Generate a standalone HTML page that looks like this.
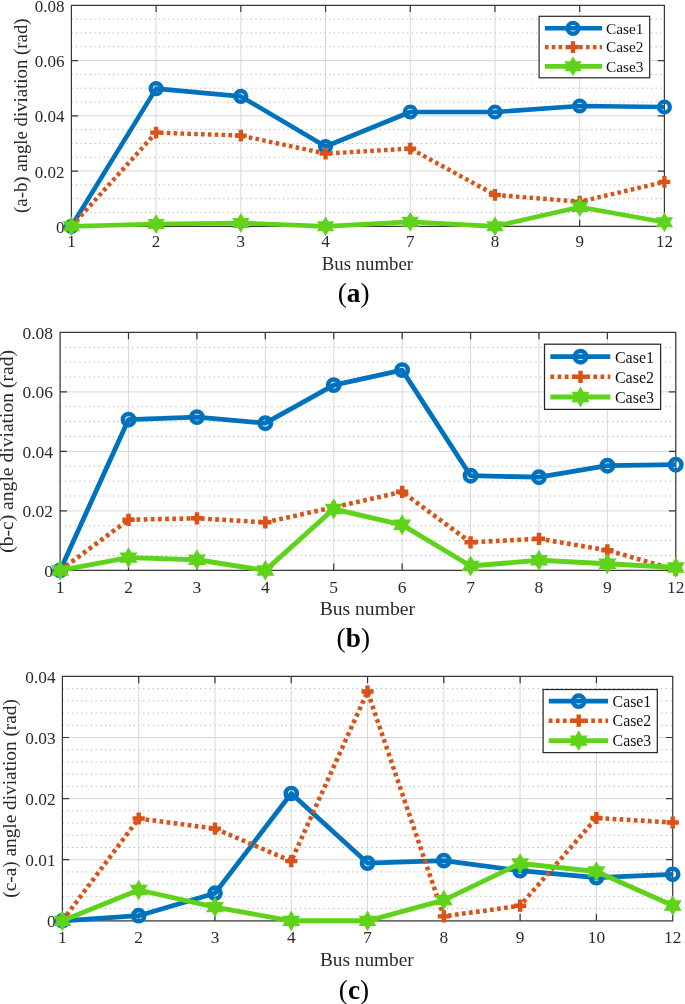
<!DOCTYPE html>
<html lang="en"><head><meta charset="utf-8"><title>Angle deviation per bus</title>
<style>html,body{margin:0;padding:0;background:#fff;overflow:hidden}svg{display:block}</style></head>
<body>
<svg width="685" height="1004" viewBox="0 0 685 1004" font-family='"Liberation Serif", "DejaVu Serif", serif'>
<rect width="685" height="1004" fill="#fff"/>
<g id="chart-a">
<path d="M71.4 212.49H664.4M71.4 198.68H664.4M71.4 184.86H664.4M71.4 157.24H664.4M71.4 143.43H664.4M71.4 129.61H664.4M71.4 101.99H664.4M71.4 88.18H664.4M71.4 74.36H664.4M71.4 46.74H664.4M71.4 32.93H664.4M71.4 19.11H664.4" stroke="#b2b2b2" stroke-width="1" stroke-dasharray="1.2 3.4" fill="none"/>
<path d="M156.11 5.3V226.3M240.83 5.3V226.3M325.54 5.3V226.3M410.26 5.3V226.3M494.97 5.3V226.3M579.69 5.3V226.3M71.4 171.05H664.4M71.4 115.8H664.4M71.4 60.55H664.4" stroke="#d8d8d8" stroke-width="1" fill="none"/>
<path d="M71.4 5.3H664.4V226.3H71.4ZM156.11 226.3v-6.6M156.11 5.3v6.6M240.83 226.3v-6.6M240.83 5.3v6.6M325.54 226.3v-6.6M325.54 5.3v6.6M410.26 226.3v-6.6M410.26 5.3v6.6M494.97 226.3v-6.6M494.97 5.3v6.6M579.69 226.3v-6.6M579.69 5.3v6.6M71.4 171.05h6.6M664.4 171.05h-6.6M71.4 115.8h6.6M664.4 115.8h-6.6M71.4 60.55h6.6M664.4 60.55h-6.6" stroke="#383838" stroke-width="1.2" fill="none"/>
<g font-size="17" fill="#2a2a2a" text-anchor="middle">
<text x="71.4" y="247.3">1</text>
<text x="156.11" y="247.3">2</text>
<text x="240.83" y="247.3">3</text>
<text x="325.54" y="247.3">4</text>
<text x="410.26" y="247.3">7</text>
<text x="494.97" y="247.3">8</text>
<text x="579.69" y="247.3">9</text>
<text x="664.4" y="247.3">12</text>
</g>
<g font-size="17" fill="#2a2a2a" text-anchor="end">
<text x="64.6" y="232.9">0</text>
<text x="64.6" y="177.65">0.02</text>
<text x="64.6" y="122.4">0.04</text>
<text x="64.6" y="67.15">0.06</text>
<text x="64.6" y="11.9">0.08</text>
</g>
<text x="367.4" y="270" font-size="18.8" text-anchor="middle" fill="#2a2a2a">Bus number</text>
<text transform="translate(26.9 115.7) rotate(-90)" font-size="18.8" text-anchor="middle" fill="#2a2a2a">(a-b) angle diviation (rad)</text>
<polyline points="71.4,226.3 156.11,88.6 240.83,96.4 325.54,146.5 410.26,112 494.97,112 579.69,106 664.4,107" fill="none" stroke="#0072BD" stroke-width="4.6" stroke-linejoin="round"/>
<circle cx="71.4" cy="226.3" r="5.4" fill="none" stroke="#0072BD" stroke-width="4.4"/>
<circle cx="156.11" cy="88.6" r="5.4" fill="none" stroke="#0072BD" stroke-width="4.4"/>
<circle cx="240.83" cy="96.4" r="5.4" fill="none" stroke="#0072BD" stroke-width="4.4"/>
<circle cx="325.54" cy="146.5" r="5.4" fill="none" stroke="#0072BD" stroke-width="4.4"/>
<circle cx="410.26" cy="112" r="5.4" fill="none" stroke="#0072BD" stroke-width="4.4"/>
<circle cx="494.97" cy="112" r="5.4" fill="none" stroke="#0072BD" stroke-width="4.4"/>
<circle cx="579.69" cy="106" r="5.4" fill="none" stroke="#0072BD" stroke-width="4.4"/>
<circle cx="664.4" cy="107" r="5.4" fill="none" stroke="#0072BD" stroke-width="4.4"/>
<polyline points="71.4,226.3 156.11,132.6 240.83,135.6 325.54,153.6 410.26,148.6 494.97,194.9 579.69,201.7 664.4,181.9" fill="none" stroke="#D95319" stroke-width="4.4" stroke-dasharray="3.6 3.25" stroke-linejoin="round"/>
<path d="M65.5 226.3H77.3M71.4 220.4V232.2" stroke="#D95319" stroke-width="4.3" fill="none"/>
<path d="M150.21 132.6H162.01M156.11 126.7V138.5" stroke="#D95319" stroke-width="4.3" fill="none"/>
<path d="M234.93 135.6H246.73M240.83 129.7V141.5" stroke="#D95319" stroke-width="4.3" fill="none"/>
<path d="M319.64 153.6H331.44M325.54 147.7V159.5" stroke="#D95319" stroke-width="4.3" fill="none"/>
<path d="M404.36 148.6H416.16M410.26 142.7V154.5" stroke="#D95319" stroke-width="4.3" fill="none"/>
<path d="M489.07 194.9H500.87M494.97 189V200.8" stroke="#D95319" stroke-width="4.3" fill="none"/>
<path d="M573.79 201.7H585.59M579.69 195.8V207.6" stroke="#D95319" stroke-width="4.3" fill="none"/>
<path d="M658.5 181.9H670.3M664.4 176V187.8" stroke="#D95319" stroke-width="4.3" fill="none"/>
<polyline points="71.4,226.3 156.11,224 240.83,223 325.54,226.3 410.26,221.8 494.97,226.3 579.69,207 664.4,222.2" fill="none" stroke="#5FD31B" stroke-width="4.7" stroke-linejoin="round"/>
<polygon points="71.40,218.30 73.71,222.30 78.33,222.30 76.02,226.30 78.33,230.30 73.71,230.30 71.40,234.30 69.09,230.30 64.47,230.30 66.78,226.30 64.47,222.30 69.09,222.30" fill="#5FD31B" stroke="#5FD31B" stroke-width="2" stroke-linejoin="miter"/>
<polygon points="156.11,216.00 158.42,220.00 163.04,220.00 160.73,224.00 163.04,228.00 158.42,228.00 156.11,232.00 153.80,228.00 149.19,228.00 151.50,224.00 149.19,220.00 153.80,220.00" fill="#5FD31B" stroke="#5FD31B" stroke-width="2" stroke-linejoin="miter"/>
<polygon points="240.83,215.00 243.14,219.00 247.76,219.00 245.45,223.00 247.76,227.00 243.14,227.00 240.83,231.00 238.52,227.00 233.90,227.00 236.21,223.00 233.90,219.00 238.52,219.00" fill="#5FD31B" stroke="#5FD31B" stroke-width="2" stroke-linejoin="miter"/>
<polygon points="325.54,218.30 327.85,222.30 332.47,222.30 330.16,226.30 332.47,230.30 327.85,230.30 325.54,234.30 323.23,230.30 318.61,230.30 320.92,226.30 318.61,222.30 323.23,222.30" fill="#5FD31B" stroke="#5FD31B" stroke-width="2" stroke-linejoin="miter"/>
<polygon points="410.26,213.80 412.57,217.80 417.19,217.80 414.88,221.80 417.19,225.80 412.57,225.80 410.26,229.80 407.95,225.80 403.33,225.80 405.64,221.80 403.33,217.80 407.95,217.80" fill="#5FD31B" stroke="#5FD31B" stroke-width="2" stroke-linejoin="miter"/>
<polygon points="494.97,218.30 497.28,222.30 501.90,222.30 499.59,226.30 501.90,230.30 497.28,230.30 494.97,234.30 492.66,230.30 488.04,230.30 490.35,226.30 488.04,222.30 492.66,222.30" fill="#5FD31B" stroke="#5FD31B" stroke-width="2" stroke-linejoin="miter"/>
<polygon points="579.69,199.00 582.00,203.00 586.61,203.00 584.30,207.00 586.61,211.00 582.00,211.00 579.69,215.00 577.38,211.00 572.76,211.00 575.07,207.00 572.76,203.00 577.38,203.00" fill="#5FD31B" stroke="#5FD31B" stroke-width="2" stroke-linejoin="miter"/>
<polygon points="664.40,214.20 666.71,218.20 671.33,218.20 669.02,222.20 671.33,226.20 666.71,226.20 664.40,230.20 662.09,226.20 657.47,226.20 659.78,222.20 657.47,218.20 662.09,218.20" fill="#5FD31B" stroke="#5FD31B" stroke-width="2" stroke-linejoin="miter"/>
<rect x="539.1" y="16.3" width="110.6" height="61.5" fill="#fff" stroke="#262626" stroke-width="1.2"/>
<path d="M544.9 28.3H602" stroke="#0072BD" stroke-width="4.6"/>
<circle cx="573" cy="28.3" r="5.4" fill="none" stroke="#0072BD" stroke-width="4.4"/>
<path d="M544.9 47.1H602" stroke="#D95319" stroke-width="4.4" stroke-dasharray="3.6 3.25"/>
<path d="M567.1 47.1H578.9M573 41.2V53" stroke="#D95319" stroke-width="4.3" fill="none"/>
<path d="M544.9 66.3H602" stroke="#5FD31B" stroke-width="4.7"/>
<polygon points="573.00,58.30 575.31,62.30 579.93,62.30 577.62,66.30 579.93,70.30 575.31,70.30 573.00,74.30 570.69,70.30 566.07,70.30 568.38,66.30 566.07,62.30 570.69,62.30" fill="#5FD31B" stroke="#5FD31B" stroke-width="2" stroke-linejoin="miter"/>
<g font-size="15.3" fill="#111">
<text x="606.1" y="33.6">Case1</text>
<text x="606.1" y="52.4">Case2</text>
<text x="606.1" y="71.6">Case3</text>
</g>
<text x="353.7" y="302.4" font-size="27.3" text-anchor="middle" fill="#000">(<tspan font-weight="bold">a</tspan>)</text>
</g>
<g id="chart-b">
<path d="M60.1 555.52H675.8M60.1 540.65H675.8M60.1 525.77H675.8M60.1 496.02H675.8M60.1 481.15H675.8M60.1 466.27H675.8M60.1 436.52H675.8M60.1 421.65H675.8M60.1 406.77H675.8M60.1 377.02H675.8M60.1 362.15H675.8M60.1 347.27H675.8" stroke="#b2b2b2" stroke-width="1" stroke-dasharray="1.25 3.55" fill="none"/>
<path d="M128.51 332.4V570.4M196.92 332.4V570.4M265.33 332.4V570.4M333.74 332.4V570.4M402.16 332.4V570.4M470.57 332.4V570.4M538.98 332.4V570.4M607.39 332.4V570.4M60.1 510.9H675.8M60.1 451.4H675.8M60.1 391.9H675.8" stroke="#d8d8d8" stroke-width="1" fill="none"/>
<path d="M60.1 332.4H675.8V570.4H60.1ZM128.51 570.4v-6.9M128.51 332.4v6.9M196.92 570.4v-6.9M196.92 332.4v6.9M265.33 570.4v-6.9M265.33 332.4v6.9M333.74 570.4v-6.9M333.74 332.4v6.9M402.16 570.4v-6.9M402.16 332.4v6.9M470.57 570.4v-6.9M470.57 332.4v6.9M538.98 570.4v-6.9M538.98 332.4v6.9M607.39 570.4v-6.9M607.39 332.4v6.9M60.1 510.9h6.9M675.8 510.9h-6.9M60.1 451.4h6.9M675.8 451.4h-6.9M60.1 391.9h6.9M675.8 391.9h-6.9" stroke="#383838" stroke-width="1.25" fill="none"/>
<g font-size="17.5" fill="#2a2a2a" text-anchor="middle">
<text x="60.1" y="592.6">1</text>
<text x="128.51" y="592.6">2</text>
<text x="196.92" y="592.6">3</text>
<text x="265.33" y="592.6">4</text>
<text x="333.74" y="592.6">5</text>
<text x="402.16" y="592.6">6</text>
<text x="470.57" y="592.6">7</text>
<text x="538.98" y="592.6">8</text>
<text x="607.39" y="592.6">9</text>
<text x="675.8" y="592.6">12</text>
</g>
<g font-size="17.5" fill="#2a2a2a" text-anchor="end">
<text x="53.1" y="576.9">0</text>
<text x="53.1" y="517.4">0.02</text>
<text x="53.1" y="457.9">0.04</text>
<text x="53.1" y="398.4">0.06</text>
<text x="53.1" y="338.9">0.08</text>
</g>
<text x="367.3" y="615.2" font-size="19.6" text-anchor="middle" fill="#2a2a2a">Bus number</text>
<text transform="translate(13.2 451.4) rotate(-90)" font-size="19.6" text-anchor="middle" fill="#2a2a2a">(b-c) angle diviation (rad)</text>
<polyline points="60.1,570.4 128.51,419.6 196.92,417.1 265.33,423.2 333.74,385.1 402.16,370.1 470.57,475.7 538.98,477.2 607.39,465.7 675.8,464.7" fill="none" stroke="#0072BD" stroke-width="4.81" stroke-linejoin="round"/>
<circle cx="60.1" cy="570.4" r="5.64" fill="none" stroke="#0072BD" stroke-width="4.6"/>
<circle cx="128.51" cy="419.6" r="5.64" fill="none" stroke="#0072BD" stroke-width="4.6"/>
<circle cx="196.92" cy="417.1" r="5.64" fill="none" stroke="#0072BD" stroke-width="4.6"/>
<circle cx="265.33" cy="423.2" r="5.64" fill="none" stroke="#0072BD" stroke-width="4.6"/>
<circle cx="333.74" cy="385.1" r="5.64" fill="none" stroke="#0072BD" stroke-width="4.6"/>
<circle cx="402.16" cy="370.1" r="5.64" fill="none" stroke="#0072BD" stroke-width="4.6"/>
<circle cx="470.57" cy="475.7" r="5.64" fill="none" stroke="#0072BD" stroke-width="4.6"/>
<circle cx="538.98" cy="477.2" r="5.64" fill="none" stroke="#0072BD" stroke-width="4.6"/>
<circle cx="607.39" cy="465.7" r="5.64" fill="none" stroke="#0072BD" stroke-width="4.6"/>
<circle cx="675.8" cy="464.7" r="5.64" fill="none" stroke="#0072BD" stroke-width="4.6"/>
<polyline points="60.1,570.4 128.51,519.8 196.92,518.3 265.33,522.3 333.74,507.3 402.16,491.8 470.57,542.3 538.98,538.8 607.39,550.3 675.8,569.8" fill="none" stroke="#D95319" stroke-width="4.6" stroke-dasharray="3.76 3.4" stroke-linejoin="round"/>
<path d="M53.93 570.4H66.27M60.1 564.23V576.57" stroke="#D95319" stroke-width="4.49" fill="none"/>
<path d="M122.35 519.8H134.68M128.51 513.63V525.97" stroke="#D95319" stroke-width="4.49" fill="none"/>
<path d="M190.76 518.3H203.09M196.92 512.13V524.47" stroke="#D95319" stroke-width="4.49" fill="none"/>
<path d="M259.17 522.3H271.5M265.33 516.13V528.47" stroke="#D95319" stroke-width="4.49" fill="none"/>
<path d="M327.58 507.3H339.91M333.74 501.13V513.47" stroke="#D95319" stroke-width="4.49" fill="none"/>
<path d="M395.99 491.8H408.32M402.16 485.63V497.97" stroke="#D95319" stroke-width="4.49" fill="none"/>
<path d="M464.4 542.3H476.73M470.57 536.13V548.47" stroke="#D95319" stroke-width="4.49" fill="none"/>
<path d="M532.81 538.8H545.14M538.98 532.63V544.97" stroke="#D95319" stroke-width="4.49" fill="none"/>
<path d="M601.22 550.3H613.55M607.39 544.13V556.47" stroke="#D95319" stroke-width="4.49" fill="none"/>
<path d="M669.63 569.8H681.97M675.8 563.63V575.97" stroke="#D95319" stroke-width="4.49" fill="none"/>
<polyline points="60.1,570.4 128.51,557.6 196.92,559.7 265.33,570.4 333.74,509 402.16,524.8 470.57,566 538.98,560.3 607.39,563.8 675.8,567.5" fill="none" stroke="#5FD31B" stroke-width="4.91" stroke-linejoin="round"/>
<polygon points="60.10,562.04 62.51,566.22 67.34,566.22 64.93,570.40 67.34,574.58 62.51,574.58 60.10,578.76 57.69,574.58 52.86,574.58 55.27,570.40 52.86,566.22 57.69,566.22" fill="#5FD31B" stroke="#5FD31B" stroke-width="2.09" stroke-linejoin="miter"/>
<polygon points="128.51,549.24 130.92,553.42 135.75,553.42 133.34,557.60 135.75,561.78 130.92,561.78 128.51,565.96 126.10,561.78 121.27,561.78 123.68,557.60 121.27,553.42 126.10,553.42" fill="#5FD31B" stroke="#5FD31B" stroke-width="2.09" stroke-linejoin="miter"/>
<polygon points="196.92,551.34 199.34,555.52 204.16,555.52 201.75,559.70 204.16,563.88 199.34,563.88 196.92,568.06 194.51,563.88 189.68,563.88 192.10,559.70 189.68,555.52 194.51,555.52" fill="#5FD31B" stroke="#5FD31B" stroke-width="2.09" stroke-linejoin="miter"/>
<polygon points="265.33,562.04 267.75,566.22 272.57,566.22 270.16,570.40 272.57,574.58 267.75,574.58 265.33,578.76 262.92,574.58 258.09,574.58 260.51,570.40 258.09,566.22 262.92,566.22" fill="#5FD31B" stroke="#5FD31B" stroke-width="2.09" stroke-linejoin="miter"/>
<polygon points="333.74,500.64 336.16,504.82 340.98,504.82 338.57,509.00 340.98,513.18 336.16,513.18 333.74,517.36 331.33,513.18 326.50,513.18 328.92,509.00 326.50,504.82 331.33,504.82" fill="#5FD31B" stroke="#5FD31B" stroke-width="2.09" stroke-linejoin="miter"/>
<polygon points="402.16,516.44 404.57,520.62 409.40,520.62 406.98,524.80 409.40,528.98 404.57,528.98 402.16,533.16 399.74,528.98 394.92,528.98 397.33,524.80 394.92,520.62 399.74,520.62" fill="#5FD31B" stroke="#5FD31B" stroke-width="2.09" stroke-linejoin="miter"/>
<polygon points="470.57,557.64 472.98,561.82 477.81,561.82 475.39,566.00 477.81,570.18 472.98,570.18 470.57,574.36 468.15,570.18 463.33,570.18 465.74,566.00 463.33,561.82 468.15,561.82" fill="#5FD31B" stroke="#5FD31B" stroke-width="2.09" stroke-linejoin="miter"/>
<polygon points="538.98,551.94 541.39,556.12 546.22,556.12 543.80,560.30 546.22,564.48 541.39,564.48 538.98,568.66 536.56,564.48 531.74,564.48 534.15,560.30 531.74,556.12 536.56,556.12" fill="#5FD31B" stroke="#5FD31B" stroke-width="2.09" stroke-linejoin="miter"/>
<polygon points="607.39,555.44 609.80,559.62 614.63,559.62 612.22,563.80 614.63,567.98 609.80,567.98 607.39,572.16 604.98,567.98 600.15,567.98 602.56,563.80 600.15,559.62 604.98,559.62" fill="#5FD31B" stroke="#5FD31B" stroke-width="2.09" stroke-linejoin="miter"/>
<polygon points="675.80,559.14 678.21,563.32 683.04,563.32 680.63,567.50 683.04,571.68 678.21,571.68 675.80,575.86 673.39,571.68 668.56,571.68 670.97,567.50 668.56,563.32 673.39,563.32" fill="#5FD31B" stroke="#5FD31B" stroke-width="2.09" stroke-linejoin="miter"/>
<rect x="544.5" y="344.2" width="116.1" height="65.2" fill="#fff" stroke="#262626" stroke-width="1.25"/>
<path d="M550.4 356.7H610.3" stroke="#0072BD" stroke-width="4.81"/>
<circle cx="580.5" cy="356.7" r="5.64" fill="none" stroke="#0072BD" stroke-width="4.6"/>
<path d="M550.4 376.8H610.3" stroke="#D95319" stroke-width="4.6" stroke-dasharray="3.76 3.4"/>
<path d="M574.33 376.8H586.67M580.5 370.63V382.97" stroke="#D95319" stroke-width="4.49" fill="none"/>
<path d="M550.4 397H610.3" stroke="#5FD31B" stroke-width="4.91"/>
<polygon points="580.50,388.64 582.91,392.82 587.74,392.82 585.33,397.00 587.74,401.18 582.91,401.18 580.50,405.36 578.09,401.18 573.26,401.18 575.67,397.00 573.26,392.82 578.09,392.82" fill="#5FD31B" stroke="#5FD31B" stroke-width="2.09" stroke-linejoin="miter"/>
<g font-size="16" fill="#111">
<text x="614.9" y="362.7">Case1</text>
<text x="614.9" y="382.8">Case2</text>
<text x="614.9" y="403">Case3</text>
</g>
<text x="353.3" y="647.1" font-size="27.3" text-anchor="middle" fill="#000">(<tspan font-weight="bold">b</tspan>)</text>
</g>
<g id="chart-c">
<path d="M62.4 908.58H672.7M62.4 896.36H672.7M62.4 884.14H672.7M62.4 871.92H672.7M62.4 847.48H672.7M62.4 835.26H672.7M62.4 823.04H672.7M62.4 810.82H672.7M62.4 786.38H672.7M62.4 774.16H672.7M62.4 761.94H672.7M62.4 749.72H672.7M62.4 725.28H672.7M62.4 713.06H672.7M62.4 700.84H672.7M62.4 688.62H672.7" stroke="#b2b2b2" stroke-width="1" stroke-dasharray="1.24 3.51" fill="none"/>
<path d="M138.69 676.4V920.8M214.98 676.4V920.8M291.26 676.4V920.8M367.55 676.4V920.8M443.84 676.4V920.8M520.12 676.4V920.8M596.41 676.4V920.8M62.4 859.7H672.7M62.4 798.6H672.7M62.4 737.5H672.7" stroke="#d8d8d8" stroke-width="1" fill="none"/>
<path d="M62.4 676.4H672.7V920.8H62.4ZM138.69 920.8v-6.82M138.69 676.4v6.82M214.98 920.8v-6.82M214.98 676.4v6.82M291.26 920.8v-6.82M291.26 676.4v6.82M367.55 920.8v-6.82M367.55 676.4v6.82M443.84 920.8v-6.82M443.84 676.4v6.82M520.12 920.8v-6.82M520.12 676.4v6.82M596.41 920.8v-6.82M596.41 676.4v6.82M62.4 859.7h6.82M672.7 859.7h-6.82M62.4 798.6h6.82M672.7 798.6h-6.82M62.4 737.5h6.82M672.7 737.5h-6.82" stroke="#383838" stroke-width="1.24" fill="none"/>
<g font-size="17.3" fill="#2a2a2a" text-anchor="middle">
<text x="62.4" y="942.8">1</text>
<text x="138.69" y="942.8">2</text>
<text x="214.98" y="942.8">3</text>
<text x="291.26" y="942.8">4</text>
<text x="367.55" y="942.8">7</text>
<text x="443.84" y="942.8">8</text>
<text x="520.12" y="942.8">9</text>
<text x="596.41" y="942.8">10</text>
<text x="672.7" y="942.8">12</text>
</g>
<g font-size="17.3" fill="#2a2a2a" text-anchor="end">
<text x="55.6" y="927.2">0</text>
<text x="55.6" y="866.1">0.01</text>
<text x="55.6" y="805">0.02</text>
<text x="55.6" y="743.9">0.03</text>
<text x="55.6" y="682.8">0.04</text>
</g>
<text x="366.8" y="965.5" font-size="19.3" text-anchor="middle" fill="#2a2a2a">Bus number</text>
<text transform="translate(16.2 798.4) rotate(-90)" font-size="19.3" text-anchor="middle" fill="#2a2a2a">(c-a) angle diviation (rad)</text>
<polyline points="62.4,920.8 138.69,915.7 214.98,893.2 291.26,793.5 367.55,863.1 443.84,860.6 520.12,870.6 596.41,877.6 672.7,874.3" fill="none" stroke="#0072BD" stroke-width="4.75" stroke-linejoin="round"/>
<circle cx="62.4" cy="920.8" r="5.58" fill="none" stroke="#0072BD" stroke-width="4.55"/>
<circle cx="138.69" cy="915.7" r="5.58" fill="none" stroke="#0072BD" stroke-width="4.55"/>
<circle cx="214.98" cy="893.2" r="5.58" fill="none" stroke="#0072BD" stroke-width="4.55"/>
<circle cx="291.26" cy="793.5" r="5.58" fill="none" stroke="#0072BD" stroke-width="4.55"/>
<circle cx="367.55" cy="863.1" r="5.58" fill="none" stroke="#0072BD" stroke-width="4.55"/>
<circle cx="443.84" cy="860.6" r="5.58" fill="none" stroke="#0072BD" stroke-width="4.55"/>
<circle cx="520.12" cy="870.6" r="5.58" fill="none" stroke="#0072BD" stroke-width="4.55"/>
<circle cx="596.41" cy="877.6" r="5.58" fill="none" stroke="#0072BD" stroke-width="4.55"/>
<circle cx="672.7" cy="874.3" r="5.58" fill="none" stroke="#0072BD" stroke-width="4.55"/>
<polyline points="62.4,920.8 138.69,818.5 214.98,828.6 291.26,861.1 367.55,691.5 443.84,916.4 520.12,905.7 596.41,818 672.7,822.5" fill="none" stroke="#D95319" stroke-width="4.55" stroke-dasharray="3.72 3.36" stroke-linejoin="round"/>
<path d="M56.31 920.8H68.49M62.4 914.71V926.89" stroke="#D95319" stroke-width="4.44" fill="none"/>
<path d="M132.59 818.5H144.78M138.69 812.41V824.59" stroke="#D95319" stroke-width="4.44" fill="none"/>
<path d="M208.88 828.6H221.07M214.98 822.51V834.69" stroke="#D95319" stroke-width="4.44" fill="none"/>
<path d="M285.17 861.1H297.36M291.26 855.01V867.19" stroke="#D95319" stroke-width="4.44" fill="none"/>
<path d="M361.46 691.5H373.64M367.55 685.41V697.59" stroke="#D95319" stroke-width="4.44" fill="none"/>
<path d="M437.74 916.4H449.93M443.84 910.31V922.49" stroke="#D95319" stroke-width="4.44" fill="none"/>
<path d="M514.03 905.7H526.22M520.12 899.61V911.79" stroke="#D95319" stroke-width="4.44" fill="none"/>
<path d="M590.32 818H602.51M596.41 811.91V824.09" stroke="#D95319" stroke-width="4.44" fill="none"/>
<path d="M666.61 822.5H678.79M672.7 816.41V828.59" stroke="#D95319" stroke-width="4.44" fill="none"/>
<polyline points="62.4,920.8 138.69,890 214.98,907.1 291.26,920.8 367.55,920.8 443.84,900.1 520.12,863.5 596.41,871.5 672.7,905.5" fill="none" stroke="#5FD31B" stroke-width="4.86" stroke-linejoin="round"/>
<polygon points="62.40,912.54 64.79,916.67 69.56,916.67 67.17,920.80 69.56,924.93 64.79,924.93 62.40,929.06 60.01,924.93 55.24,924.93 57.63,920.80 55.24,916.67 60.01,916.67" fill="#5FD31B" stroke="#5FD31B" stroke-width="2.07" stroke-linejoin="miter"/>
<polygon points="138.69,881.74 141.07,885.87 145.84,885.87 143.46,890.00 145.84,894.13 141.07,894.13 138.69,898.26 136.30,894.13 131.53,894.13 133.92,890.00 131.53,885.87 136.30,885.87" fill="#5FD31B" stroke="#5FD31B" stroke-width="2.07" stroke-linejoin="miter"/>
<polygon points="214.98,898.84 217.36,902.97 222.13,902.97 219.75,907.10 222.13,911.23 217.36,911.23 214.98,915.36 212.59,911.23 207.82,911.23 210.20,907.10 207.82,902.97 212.59,902.97" fill="#5FD31B" stroke="#5FD31B" stroke-width="2.07" stroke-linejoin="miter"/>
<polygon points="291.26,912.54 293.65,916.67 298.42,916.67 296.03,920.80 298.42,924.93 293.65,924.93 291.26,929.06 288.88,924.93 284.11,924.93 286.49,920.80 284.11,916.67 288.88,916.67" fill="#5FD31B" stroke="#5FD31B" stroke-width="2.07" stroke-linejoin="miter"/>
<polygon points="367.55,912.54 369.94,916.67 374.71,916.67 372.32,920.80 374.71,924.93 369.94,924.93 367.55,929.06 365.16,924.93 360.39,924.93 362.78,920.80 360.39,916.67 365.16,916.67" fill="#5FD31B" stroke="#5FD31B" stroke-width="2.07" stroke-linejoin="miter"/>
<polygon points="443.84,891.84 446.22,895.97 450.99,895.97 448.61,900.10 450.99,904.23 446.22,904.23 443.84,908.36 441.45,904.23 436.68,904.23 439.07,900.10 436.68,895.97 441.45,895.97" fill="#5FD31B" stroke="#5FD31B" stroke-width="2.07" stroke-linejoin="miter"/>
<polygon points="520.12,855.24 522.51,859.37 527.28,859.37 524.90,863.50 527.28,867.63 522.51,867.63 520.12,871.76 517.74,867.63 512.97,867.63 515.35,863.50 512.97,859.37 517.74,859.37" fill="#5FD31B" stroke="#5FD31B" stroke-width="2.07" stroke-linejoin="miter"/>
<polygon points="596.41,863.24 598.80,867.37 603.57,867.37 601.18,871.50 603.57,875.63 598.80,875.63 596.41,879.76 594.03,875.63 589.26,875.63 591.64,871.50 589.26,867.37 594.03,867.37" fill="#5FD31B" stroke="#5FD31B" stroke-width="2.07" stroke-linejoin="miter"/>
<polygon points="672.70,897.24 675.09,901.37 679.86,901.37 677.47,905.50 679.86,909.63 675.09,909.63 672.70,913.76 670.31,909.63 665.54,909.63 667.93,905.50 665.54,901.37 670.31,901.37" fill="#5FD31B" stroke="#5FD31B" stroke-width="2.07" stroke-linejoin="miter"/>
<rect x="543.1" y="689.5" width="114.2" height="63.1" fill="#fff" stroke="#262626" stroke-width="1.24"/>
<path d="M548.8 701.2H608.1" stroke="#0072BD" stroke-width="4.75"/>
<circle cx="578.7" cy="701.2" r="5.58" fill="none" stroke="#0072BD" stroke-width="4.55"/>
<path d="M548.8 720.7H608.1" stroke="#D95319" stroke-width="4.55" stroke-dasharray="3.72 3.36"/>
<path d="M572.61 720.7H584.79M578.7 714.61V726.79" stroke="#D95319" stroke-width="4.44" fill="none"/>
<path d="M548.8 740.6H608.1" stroke="#5FD31B" stroke-width="4.86"/>
<polygon points="578.70,732.34 581.09,736.47 585.86,736.47 583.47,740.60 585.86,744.73 581.09,744.73 578.70,748.86 576.31,744.73 571.54,744.73 573.93,740.60 571.54,736.47 576.31,736.47" fill="#5FD31B" stroke="#5FD31B" stroke-width="2.07" stroke-linejoin="miter"/>
<g font-size="15.8" fill="#111">
<text x="612.6" y="706.6">Case1</text>
<text x="612.6" y="726.1">Case2</text>
<text x="612.6" y="746">Case3</text>
</g>
<text x="354" y="999" font-size="27.3" text-anchor="middle" fill="#000">(<tspan font-weight="bold">c</tspan>)</text>
</g>
</svg>
</body></html>
